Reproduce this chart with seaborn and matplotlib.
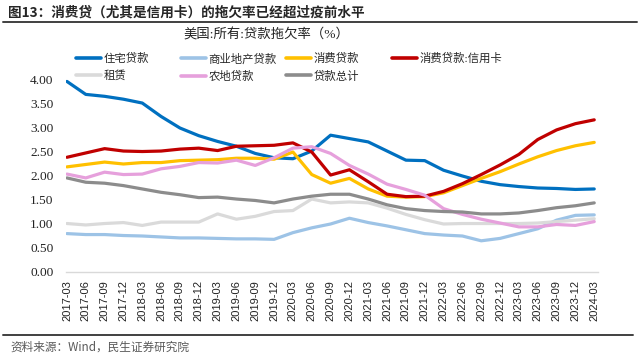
import pandas as pd
import matplotlib
matplotlib.use("Agg")
import matplotlib.pyplot as plt
from matplotlib.lines import Line2D
import seaborn as sns

# --- data (quarterly 2017-03 .. 2024-03) ---
quarters = ['2017-03', '2017-06', '2017-09', '2017-12', '2018-03', '2018-06', '2018-09', '2018-12',
            '2019-03', '2019-06', '2019-09', '2019-12', '2020-03', '2020-06', '2020-09', '2020-12',
            '2021-03', '2021-06', '2021-09', '2021-12', '2022-03', '2022-06', '2022-09', '2022-12',
            '2023-03', '2023-06', '2023-09', '2023-12', '2024-03']

residential = [3.97, 3.70, 3.66, 3.60, 3.52, 3.24, 3.00, 2.84, 2.72, 2.62, 2.47, 2.38, 2.36, 2.52, 2.85,
               2.78, 2.71, 2.52, 2.33, 2.32, 2.12, 2.00, 1.89, 1.82, 1.78, 1.75, 1.74, 1.72, 1.73]
commercial_re = [0.80, 0.78, 0.78, 0.76, 0.75, 0.73, 0.71, 0.71, 0.70, 0.69, 0.69, 0.68, 0.82, 0.92, 1.00,
                 1.12, 1.03, 0.96, 0.88, 0.80, 0.77, 0.75, 0.65, 0.70, 0.80, 0.90, 1.08, 1.18, 1.19]
consumer = [2.19, 2.24, 2.29, 2.25, 2.28, 2.28, 2.32, 2.33, 2.34, 2.37, 2.37, 2.35, 2.50, 2.03, 1.85,
            1.95, 1.73, 1.58, 1.56, 1.57, 1.65, 1.80, 1.95, 2.09, 2.25, 2.40, 2.53, 2.63, 2.70]
credit_card = [2.39, 2.48, 2.57, 2.52, 2.51, 2.52, 2.56, 2.58, 2.53, 2.62, 2.63, 2.64, 2.69, 2.50, 2.02,
               2.13, 1.88, 1.62, 1.57, 1.58, 1.68, 1.84, 2.03, 2.23, 2.45, 2.76, 2.96, 3.09, 3.17]
leasing = [1.01, 0.98, 1.01, 1.03, 0.97, 1.04, 1.04, 1.04, 1.21, 1.10, 1.16, 1.26, 1.28, 1.52, 1.44,
           1.46, 1.44, 1.33, 1.20, 1.09, 1.00, 1.01, 1.01, 1.01, 1.01, 1.02, 1.05, 1.08, 1.11]
farmland = [2.04, 1.96, 2.08, 2.03, 2.04, 2.15, 2.20, 2.28, 2.27, 2.33, 2.22, 2.38, 2.58, 2.61, 2.47,
            2.22, 2.04, 1.83, 1.72, 1.60, 1.32, 1.20, 1.10, 1.02, 0.94, 0.94, 0.99, 0.97, 1.05]
total = [1.96, 1.87, 1.85, 1.80, 1.73, 1.66, 1.61, 1.55, 1.56, 1.52, 1.49, 1.44, 1.52, 1.58, 1.62,
         1.62, 1.52, 1.40, 1.32, 1.28, 1.26, 1.25, 1.21, 1.21, 1.23, 1.28, 1.34, 1.38, 1.44]

series_names = ['住宅贷款', '商业地产贷款', '消费贷款', '消费贷款:信用卡', '租赁', '农地贷款', '贷款总计']
series_values = [residential, commercial_re, consumer, credit_card, leasing, farmland, total]
colors = {'住宅贷款': '#0070C0', '商业地产贷款': '#9DC3E6', '消费贷款': '#FFC000',
          '消费贷款:信用卡': '#C00000', '租赁': '#DADADA', '农地贷款': '#E6A0DC', '贷款总计': '#8C8C8C'}

rows = []
for name, vals in zip(series_names, series_values):
    for i, v in enumerate(vals):
        rows.append({'idx': i, 'value': v, 'series': name})
df = pd.DataFrame(rows)

# --- style ---
sns.set_style("white")
plt.rcParams['font.family'] = ['Noto Sans CJK SC', 'DejaVu Sans']
serif = ['Liberation Serif', 'Noto Sans CJK SC']

fig = plt.figure(figsize=(6.4, 3.63), dpi=100)
ax = fig.add_axes([66 / 640, 1 - 272 / 363, (598 - 66) / 640, (272 - 56) / 363])

sns.lineplot(data=df, x='idx', y='value', hue='series', hue_order=series_names,
             palette=colors, linewidth=2.3, legend=False, ax=ax)

ax.set_xlim(-0.05, 28.2)
ax.set_ylim(0, 4.5)
ax.set_yticks([0, 0.5, 1.0, 1.5, 2.0, 2.5, 3.0, 3.5, 4.0])
ax.set_yticklabels([f'{v:.2f}' for v in ax.get_yticks()], family=serif, fontsize=9.6, color='#222222')
ax.set_xticks(range(len(quarters)))
ax.set_xticklabels(quarters, rotation=90, family=['Liberation Sans', 'DejaVu Sans'],
                   fontsize=8, color='#222222')
ax.set_xlabel('')
ax.set_ylabel('')
for side in ['top', 'right', 'left']:
    ax.spines[side].set_visible(False)
ax.spines['bottom'].set_color('#D9D9D9')
ax.spines['bottom'].set_linewidth(1.0)
ax.tick_params(axis='x', direction='out', length=4, width=0.8, color='#D9D9D9', pad=2)
ax.tick_params(axis='y', length=0, pad=9)
ax.grid(False)

# --- legend, one small legend per column ---
columns = [['住宅贷款', '租赁'], ['商业地产贷款', '农地贷款'], ['消费贷款', '贷款总计'], ['消费贷款:信用卡']]
col_x = [76, 181, 286, 392]
for names, x0 in zip(columns, col_x):
    handles = [Line2D([], [], color=colors[n], linewidth=2.6) for n in names]
    fig.legend(handles, names, loc='upper left', bbox_to_anchor=(x0 / 640, 1 - 53 / 363),
               frameon=False, handlelength=2.2, handletextpad=0.2, labelspacing=0.55,
               borderaxespad=0, borderpad=0, prop={'family': serif, 'size': 8.2})

# --- header and footer ---
fig.text(8 / 640, 1 - 13 / 363, '图13：消费贷（尤其是信用卡）的拖欠率已经超过疫前水平',
         fontsize=9.8, fontweight='bold', color='#262626', va='center', ha='left')
fig.add_artist(Line2D([3 / 640, 637 / 640], [1 - 22 / 363] * 2, color='#404040', linewidth=1.4))
fig.text(183 / 640, 1 - 35 / 363, '美国:所有:贷款拖欠率（%）', fontsize=9.6, color='#222222',
         family=serif, va='center', ha='left')
fig.add_artist(Line2D([3 / 640, 633 / 640], [1 - 335 / 363] * 2, color='#404040', linewidth=1.4))
fig.text(10 / 640, 1 - 347 / 363, '资料来源：Wind，民生证券研究院', fontsize=8.4, color='#595959',
         va='center', ha='left')

fig.savefig('out.png', dpi=100)
